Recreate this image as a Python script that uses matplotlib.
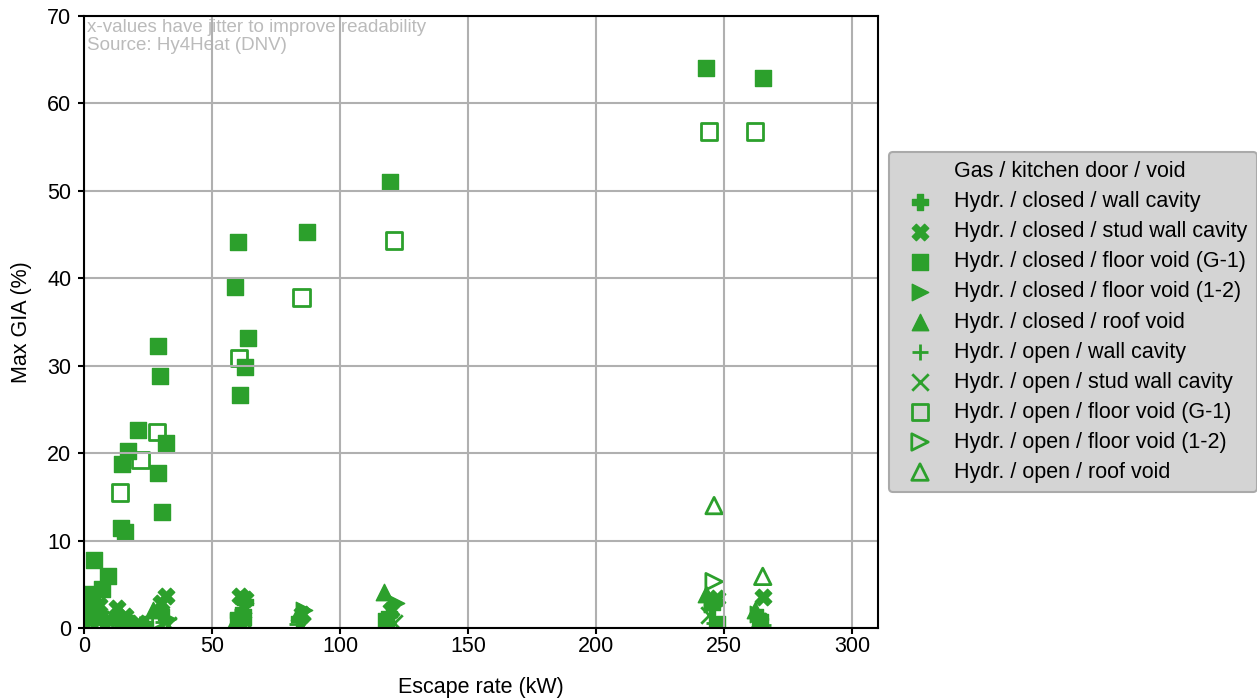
import matplotlib
matplotlib.use('Agg')
import matplotlib.pyplot as plt

plt.rcParams['font.family'] = ['Liberation Sans', 'DejaVu Sans']
plt.rcParams['font.size'] = 15.5

GREEN = '#2ca02c'

# Hydrogen releases, escape rate (kW) vs max gas-in-air (%)
closed_wall_x = [1, 4, 8, 13, 18, 24, 30, 60, 63, 84, 119, 245, 264]
closed_wall_y = [1.2, 0.8, 1.0, 1.3, 0.6, 0.5, 1.8, 1.5, 3.0, 1.0, 1.6, 2.4, 1.2]

closed_stud_x = [2, 6, 13, 16, 21, 30, 32, 61, 63, 85, 120, 247, 265]
closed_stud_y = [2.0, 2.6, 2.3, 1.4, 0.6, 2.9, 3.7, 3.7, 3.3, 1.6, 2.0, 3.4, 3.5]

closed_floor_x = [243, 265, 119.5, 87, 60, 59, 64, 63, 61, 29, 29.5, 29, 30.5,
                  32, 21, 17, 15, 14.5, 16, 4, 9.5, 7, 1, 3, 1.5, 60, 62, 247,
                  264, 118]
closed_floor_y = [64, 62.9, 51, 45.3, 44.1, 39, 33.2, 29.9, 26.7, 32.3, 28.8,
                  17.7, 13.3, 21.2, 22.6, 20.2, 18.8, 11.4, 11, 7.8, 6, 4.5,
                  3.9, 3.5, 1.8, 0.8, 1.2, 0.5, 0.2, 0.8]

closed_floor12_x = [5, 10, 19, 33, 62, 86, 122, 245, 263]
closed_floor12_y = [1.5, 0.8, 0.4, 1.0, 1.2, 2.0, 2.8, 2.7, 1.6]

closed_roof_x = [2, 7, 15, 27, 59, 84, 117, 243, 262]
closed_roof_y = [2.5, 1.8, 0.9, 2.0, 0.8, 1.8, 4.1, 3.9, 2.0]

open_wall_x = [3, 8, 14, 22, 31, 61, 83, 118, 246, 265]
open_wall_y = [0.5, 0.9, 0.3, 0.5, 0.7, 0.4, 0.5, 0.4, 0.6, 0.3]

open_stud_x = [1, 6, 12, 20, 33, 62, 85, 121, 244, 263]
open_stud_y = [0.9, 0.6, 1.0, 0.3, 0.3, 0.9, 0.2, 0.6, 1.5, 0.8]

open_floor_x = [244, 262, 121, 85, 60.5, 28.5, 22, 14]
open_floor_y = [56.8, 56.8, 44.3, 37.8, 30.9, 22.4, 19.2, 15.5]

open_floor12_x = [246, 4, 30, 61]
open_floor12_y = [5.3, 1.0, 0.8, 0.5]

open_roof_x = [246, 265, 9, 60]
open_roof_y = [14.0, 5.9, 0.5, 0.6]

fig = plt.figure(figsize=(12.57, 7), dpi=100)
ax = fig.add_axes([0.0668, 0.1029, 0.6317, 0.8742])

S = 140
ax.scatter([], [], marker='o', color='none', label='Gas / kitchen door / void')
ax.scatter(closed_wall_x, closed_wall_y, marker='P', s=S, color=GREEN,
           label='Hydr. / closed / wall cavity')
ax.scatter(closed_stud_x, closed_stud_y, marker='X', s=S, color=GREEN,
           label='Hydr. / closed / stud wall cavity')
ax.scatter(closed_floor_x, closed_floor_y, marker='s', s=S, color=GREEN,
           label='Hydr. / closed / floor void (G-1)')
ax.scatter(closed_floor12_x, closed_floor12_y, marker='>', s=S, color=GREEN,
           label='Hydr. / closed / floor void (1-2)')
ax.scatter(closed_roof_x, closed_roof_y, marker='^', s=S, color=GREEN,
           label='Hydr. / closed / roof void')
ax.scatter(open_wall_x, open_wall_y, marker='+', s=S, color=GREEN,
           linewidths=2, label='Hydr. / open / wall cavity')
ax.scatter(open_stud_x, open_stud_y, marker='x', s=S, color=GREEN,
           linewidths=2, label='Hydr. / open / stud wall cavity')
ax.scatter(open_floor_x, open_floor_y, marker='s', s=S, facecolors='none',
           edgecolors=GREEN, linewidths=2, label='Hydr. / open / floor void (G-1)')
ax.scatter(open_floor12_x, open_floor12_y, marker='>', s=S, facecolors='none',
           edgecolors=GREEN, linewidths=2, label='Hydr. / open / floor void (1-2)')
ax.scatter(open_roof_x, open_roof_y, marker='^', s=S, facecolors='none',
           edgecolors=GREEN, linewidths=2, label='Hydr. / open / roof void')

ax.set_xlim(0, 310)
ax.set_ylim(0, 70)
ax.set_xticks([0, 50, 100, 150, 200, 250, 300])
ax.set_yticks(range(0, 71, 10))
ax.grid(True, color='#b0b0b0', linewidth=1.5)
for sp in ax.spines.values():
    sp.set_linewidth(1.5)
ax.tick_params(width=1.5, length=4)
ax.tick_params(axis='x', pad=1.5)
ax.tick_params(axis='y', pad=5)
ax.set_xlabel('Escape rate (kW)', labelpad=15)
ax.set_ylabel('Max GIA (%)', labelpad=11)

ax.text(0.004, 0.995, 'x-values have jitter to improve readability\nSource: Hy4Heat (DNV)',
        transform=ax.transAxes, ha='left', va='top', color='#bbbbbb', zorder=1,
        fontsize=13.5, linespacing=1.1)

leg = ax.legend(loc='center left', bbox_to_anchor=(1.0, 0.5), frameon=True,
                fancybox=True, facecolor='#d4d4d4', edgecolor='#aaaaaa',
                framealpha=1, labelspacing=0.42, handletextpad=0.6,
                borderpad=0.45, borderaxespad=0.5)
leg.get_frame().set_linewidth(1.5)

fig.savefig('out.png', dpi=100)
